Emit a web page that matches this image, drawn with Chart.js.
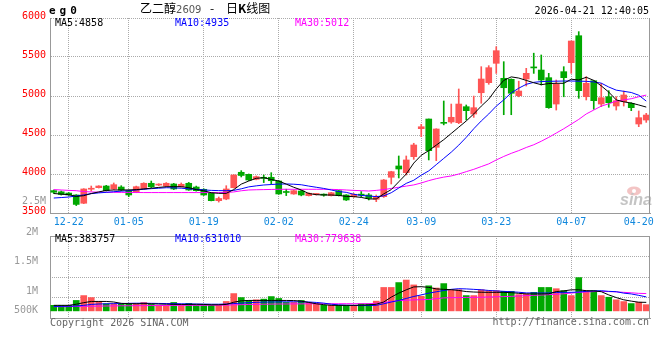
<!DOCTYPE html>
<html>
<head>
<meta charset="utf-8">
<title>乙二醇2609 日K线图</title>
<script src="https://cdn.jsdelivr.net/npm/chart.js@4.4.1/dist/chart.umd.min.js"></script>
<style>
  html, body { margin: 0; padding: 0; background: #fff; }
  #wrap { position: relative; width: 660px; height: 360px; overflow: hidden; font-family: "DejaVu Sans Mono", monospace; }
  .box { position: absolute; left: 0; width: 660px; }
  .txt { position: absolute; white-space: nowrap; font-size: 10px; line-height: 10px; }
</style>
</head>
<body>
<div id="wrap">
  <div class="box" style="top:0;height:232px"><canvas id="priceChart"></canvas></div>
  <div class="box" style="top:226px;height:134px"><canvas id="volChart"></canvas></div>

  <div class="txt" style="left:49px;top:5px;font-weight:bold;font-size:11px;line-height:11px;letter-spacing:4px">eg0</div>
  <div class="txt" style="left:140px;top:2px;font-family:'Noto Sans CJK SC';font-size:12px;line-height:12px">乙二醇<span style="font-family:'DejaVu Sans';font-size:10px;color:#555">2609</span></div>
  <div class="txt" style="left:210px;top:2px;font-family:'Noto Sans CJK SC';font-size:12px;line-height:12px">-</div>
  <div class="txt" style="left:226px;top:2px;font-family:'Noto Sans CJK SC';font-size:12px;line-height:12px">日<b>K</b>线图</div>
  <div class="txt" style="right:11px;top:6px">2026-04-21 12:40:05</div>

  <div class="txt" style="left:55px;top:18px;color:#000">MA5:4858</div>
  <div class="txt" style="left:175px;top:18px;color:#0000ff">MA10:4935</div>
  <div class="txt" style="left:295px;top:18px;color:#ff00ff">MA30:5012</div>

  <div class="txt" style="right:614px;top:196px;color:#999">2.5M</div>

  <div class="txt" style="left:55px;top:234px;color:#000">MA5:383757</div>
  <div class="txt" style="left:175px;top:234px;color:#0000ff">MA10:631010</div>
  <div class="txt" style="left:295px;top:234px;color:#ff00ff">MA30:779638</div>

  <div class="txt" style="left:50px;top:318px;color:#666">Copyright 2026 SINA.COM</div>
  <div class="txt" style="right:11px;top:317px;color:#666">http://finance.sina.com.cn</div>
</div>

<script>
// trading days shown on the chart
const dates = [
  '12-18','12-19','12-22','12-23','12-24','12-25','12-26','12-29','12-30','12-31',
  '01-05','01-06','01-07','01-08','01-09','01-12','01-13','01-14','01-15','01-16',
  '01-19','01-20','01-21','01-22','01-23','01-26','01-27','01-28','01-29','01-30',
  '02-02','02-03','02-04','02-05','02-06','02-09','02-10','02-11','02-12','02-13',
  '02-24','02-25','02-26','02-27','03-02','03-03','03-04','03-05','03-06','03-09',
  '03-10','03-11','03-12','03-13','03-16','03-17','03-18','03-19','03-20','03-23',
  '03-24','03-25','03-26','03-27','03-30','03-31','04-01','04-02','04-03','04-07',
  '04-08','04-09','04-10','04-13','04-14','04-15','04-16','04-17','04-20','04-21'
];

const opens = [
  3787,3772,3756,3731,3625,3805,3825,3846,3808,3833,
  3786,3765,3808,3881,3858,3846,3872,3837,3881,3833,
  3804,3753,3658,3679,3825,4022,3996,3932,3950,3958,
  3910,3768,3744,3782,3722,3738,3733,3722,3786,3731,
  3709,3733,3731,3676,3709,3958,4103,4017,4222,4581,
  4705,4342,4655,4667,4658,4863,4769,5042,5171,5419,
  5227,5214,5004,5218,5366,5333,5235,4897,5312,5427,
  5773,4991,5196,4897,4991,4872,4927,4906,4641,4692
];
const highs = [
  3795,3782,3762,3735,3812,3846,3850,3855,3885,3850,
  3795,3845,3888,3910,3875,3890,3880,3885,3892,3845,
  3810,3760,3705,3850,3990,4043,4000,3975,3987,4017,
  3915,3805,3795,3790,3760,3750,3745,3765,3790,3735,
  3750,3775,3750,3731,3930,4035,4231,4231,4394,4637,
  4705,4580,4936,4897,5090,4885,4999,5376,5389,5632,
  5440,5220,5190,5355,5549,5526,5291,5205,5376,5705,
  5825,5248,5196,5162,5068,4991,5064,4914,4808,4778
];
const lows = [
  3750,3730,3725,3595,3620,3780,3820,3780,3800,3785,
  3710,3760,3805,3826,3850,3840,3800,3833,3790,3780,
  3725,3655,3640,3670,3820,3962,3915,3925,3890,3870,
  3740,3723,3740,3720,3718,3730,3715,3718,3718,3660,
  3700,3705,3667,3645,3700,3872,3949,3987,4188,4478,
  4180,4171,4630,4650,4645,4693,4726,4907,5150,5290,
  4760,4760,4990,5128,5290,5141,4842,4820,4990,5291,
  4970,4949,4830,4863,4855,4820,4871,4812,4607,4662
];
const closes = [
  3766,3738,3731,3610,3808,3810,3846,3786,3863,3795,
  3731,3837,3881,3837,3862,3881,3808,3868,3795,3786,
  3731,3658,3686,3808,3987,3981,3923,3966,3945,3914,
  3744,3763,3786,3731,3753,3742,3729,3760,3722,3667,
  3740,3729,3689,3709,3923,4030,4064,4180,4372,4606,
  4299,4577,4650,4727,4897,4812,4850,5218,5363,5581,
  5106,5035,5064,5291,5360,5205,4850,5150,5235,5705,
  5068,5163,4940,4978,4914,4940,5013,4850,4722,4756
];

// moving averages as drawn on the price panel
const ma5 = [
  3750,3742,3735,3712,3722,3750,3770,3790,3795,3795,
  3796,3800,3808,3818,3828,3837,3838,3837,3825,3800,
  3785,3760,3752,3752,3800,3870,3910,3945,3952,3930,
  3910,3870,3830,3795,3750,3735,3731,3731,3725,3713,
  3710,3700,3680,3680,3745,3800,3900,4000,4140,4240,
  4300,4370,4440,4520,4600,4680,4770,4870,4960,5090,
  5200,5245,5230,5200,5170,5145,5160,5163,5163,5215,
  5205,5240,5200,5130,5050,4950,4925,4910,4885,4858
];
const ma10 = [
  3692,3698,3705,3718,3732,3748,3758,3765,3773,3780,
  3786,3795,3805,3812,3818,3824,3822,3818,3810,3803,
  3796,3790,3787,3786,3790,3810,3835,3848,3859,3865,
  3871,3872,3869,3862,3845,3830,3815,3795,3775,3765,
  3740,3725,3718,3710,3720,3760,3820,3880,3920,3985,
  4040,4120,4200,4280,4370,4470,4580,4680,4770,4870,
  4950,5040,5100,5150,5175,5185,5188,5190,5192,5192,
  5190,5188,5180,5165,5115,5075,5060,5045,5010,4935
];
const ma30 = [
  3800,3795,3790,3786,3775,3770,3768,3766,3765,3764,
  3764,3763,3762,3762,3762,3762,3762,3762,3762,3762,
  3762,3762,3762,3763,3770,3785,3795,3798,3800,3802,
  3804,3804,3804,3804,3804,3804,3804,3803,3800,3795,
  3790,3786,3782,3790,3800,3815,3830,3845,3860,3885,
  3915,3940,3960,3975,4000,4030,4060,4095,4130,4180,
  4225,4265,4300,4340,4375,4420,4470,4525,4580,4640,
  4700,4770,4820,4870,4900,4935,4950,4965,4990,5012
];

// volume, in thousands of lots
const volumeK = [
  250,250,250,470,690,600,425,320,320,320,
  320,320,380,290,250,250,380,280,340,250,
  250,250,250,425,780,600,470,500,530,645,
  560,380,380,470,380,320,250,250,250,250,
  250,320,320,440,1056,1056,1276,1390,1170,660,
  1130,1030,1230,953,953,690,690,953,910,910,
  880,880,733,763,836,1056,1056,1000,910,690,
  1500,910,910,690,616,500,420,330,390,280
];
const volMa5K = [
  250,250,250,300,370,425,425,425,400,340,
  325,320,325,320,310,300,295,290,290,295,
  290,275,275,290,390,455,470,470,470,470,
  470,470,465,440,380,320,280,250,250,250,
  250,260,270,300,400,620,800,950,1080,1090,
  1060,990,970,955,920,870,850,840,836,836,
  836,820,790,765,763,763,770,870,900,950,
  950,910,900,865,720,600,500,440,390,384
];
const volMa10K = [
  200,205,210,220,250,290,310,320,325,330,
  340,345,345,340,335,330,325,320,315,310,
  305,300,300,310,330,350,370,385,395,400,
  405,410,410,410,400,380,350,300,270,255,
  245,240,240,250,320,400,470,560,650,720,
  800,860,920,970,1000,990,970,950,920,900,
  880,860,840,810,807,807,807,830,836,836,
  850,880,900,909,880,865,800,763,700,631
];
const volMa30K = [
  190,190,195,200,205,210,215,220,225,230,
  230,235,235,240,240,245,245,250,250,250,
  250,255,255,260,270,280,290,295,300,305,
  310,310,315,315,320,320,320,323,323,323,
  323,323,325,340,380,420,460,480,495,505,
  513,550,586,595,600,605,610,616,625,635,
  645,655,670,689,700,715,730,750,770,800,
  836,850,870,880,870,855,836,815,790,780
];

const dateTicks = ['12-22','01-05','01-19','02-02','02-24','03-09','03-23','04-07','04-20'];
const gridDates = ['12-22','01-05','01-19','02-02','02-24','03-09','03-23','04-07'];
const priceMin = 3500, priceMax = 6000, priceStep = 500;
const volMin = -321000, volMax = 3375000;
const volTickValues = [3375000, 2055000, 704000, -176000];
const volTickLabels = ['2M', '1.5M', '1M', '500K'];

const upColor = '#ff5555';
const downColor = '#00a800';
const candleColors = closes.map((c, i) => c >= opens[i] ? upColor : downColor);

const monoFont = { family: 'DejaVu Sans Mono', size: 10 };
const gridColor = ctx => gridDates.includes(dates[ctx.index]) ? '#aaa' : 'rgba(0,0,0,0)';

// right border, optional top border and the sina watermark
const framePlugin = {
  id: 'frame',
  beforeDatasetsDraw(chart, args, opts) {
    if (!opts.watermark) return;
    const ctx = chart.ctx, a = chart.chartArea;
    ctx.save();
    ctx.fillStyle = '#f3c4c4';
    ctx.beginPath();
    ctx.ellipse(a.right - 16, a.bottom - 22, 7, 4.5, 0, 0, Math.PI * 2);
    ctx.fill();
    ctx.fillStyle = '#fff';
    ctx.beginPath();
    ctx.arc(a.right - 16, a.bottom - 22, 2, 0, Math.PI * 2);
    ctx.fill();
    ctx.font = 'italic bold 16px "Liberation Sans"';
    ctx.fillStyle = '#c4c4c4';
    ctx.fillText('sina', a.right - 30, a.bottom - 8);
    ctx.restore();
  },
  afterDraw(chart, args, opts) {
    const ctx = chart.ctx, a = chart.chartArea;
    const r = Math.round(a.right) - 0.5;
    ctx.save();
    ctx.strokeStyle = '#999';
    ctx.lineWidth = 1;
    ctx.beginPath();
    ctx.moveTo(r, a.top);
    ctx.lineTo(r, a.bottom);
    if (opts.top) {
      const t = Math.round(a.top) + 0.5;
      ctx.moveTo(a.left, t);
      ctx.lineTo(r, t);
    }
    ctx.stroke();
    ctx.restore();
  }
};

function maLine(values, color) {
  return {
    type: 'line',
    data: values,
    borderColor: color,
    borderWidth: 1,
    pointRadius: 0,
    tension: 0,
    fill: false,
    order: 0
  };
}

Chart.defaults.font.family = 'DejaVu Sans Mono';

new Chart(document.getElementById('priceChart'), {
  type: 'bar',
  data: {
    labels: dates,
    datasets: [
      maLine(ma5, '#000'),
      maLine(ma10, '#0000ff'),
      maLine(ma30, '#ff00ff'),
      {
        data: opens.map((o, i) => [o, closes[i]]),
        backgroundColor: candleColors,
        barThickness: 6,
        minBarLength: 1,
        grouped: false,
        order: 1
      },
      {
        data: lows.map((l, i) => [l, highs[i]]),
        backgroundColor: candleColors,
        barThickness: 1,
        grouped: false,
        order: 2
      }
    ]
  },
  options: {
    responsive: true,
    maintainAspectRatio: false,
    animation: false,
    layout: { padding: { top: 18, right: 10, bottom: 4, left: 0 } },
    plugins: {
      legend: { display: false },
      tooltip: { enabled: false },
      frame: { watermark: true, top: false }
    },
    scales: {
      x: {
        offset: true,
        grid: { offset: false, drawTicks: false, color: gridColor },
        border: { color: '#999', dash: [1, 1] },
        ticks: {
          autoSkip: false,
          maxRotation: 0,
          padding: 3,
          color: '#1188dd',
          font: monoFont,
          callback: (v, i) => dateTicks.includes(dates[i]) ? dates[i] : ''
        },
        afterFit: s => { s.height = 15; }
      },
      y: {
        min: priceMin,
        max: priceMax,
        ticks: {
          stepSize: priceStep,
          color: '#ff0000',
          font: monoFont,
          padding: 4,
          labelOffset: -2,
          callback: v => String(v)
        },
        grid: { color: '#aaa', drawTicks: false },
        border: { color: '#999', dash: [1, 1] },
        afterFit: s => { s.width = 50; }
      }
    }
  },
  plugins: [framePlugin]
});

new Chart(document.getElementById('volChart'), {
  type: 'bar',
  data: {
    labels: dates,
    datasets: [
      maLine(volMa5K.map(v => v * 1000), '#000'),
      maLine(volMa10K.map(v => v * 1000), '#0000ff'),
      maLine(volMa30K.map(v => v * 1000), '#ff00ff'),
      {
        data: volumeK.map(v => v * 1000),
        backgroundColor: candleColors,
        barThickness: 6,
        order: 1
      }
    ]
  },
  options: {
    responsive: true,
    maintainAspectRatio: false,
    animation: false,
    layout: { padding: { top: 8, right: 10, bottom: 42, left: 0 } },
    plugins: {
      legend: { display: false },
      tooltip: { enabled: false },
      frame: { watermark: false, top: true }
    },
    scales: {
      x: {
        offset: true,
        grid: { offset: false, drawTicks: false, color: gridColor },
        border: { color: '#999', dash: [1, 1] },
        ticks: { display: false, autoSkip: false },
        afterFit: s => { s.height = 0; }
      },
      y: {
        min: volMin,
        max: volMax,
        afterBuildTicks: s => { s.ticks = volTickValues.map(v => ({ value: v })); },
        ticks: {
          color: '#999',
          font: monoFont,
          padding: 4,
          labelOffset: -4,
          callback: (v, i) => volTickLabels[i]
        },
        grid: { display: false },
        border: { color: '#999' },
        afterFit: s => { s.width = 50; }
      },
      yg: {
        position: 'right',
        min: 0,
        max: 4,
        ticks: { display: false, stepSize: 1 },
        grid: { color: '#aaa', drawTicks: false },
        border: { display: false, dash: [1, 1] },
        afterFit: s => { s.width = 0; }
      }
    }
  },
  plugins: [framePlugin]
});
</script>
</body>
</html>
